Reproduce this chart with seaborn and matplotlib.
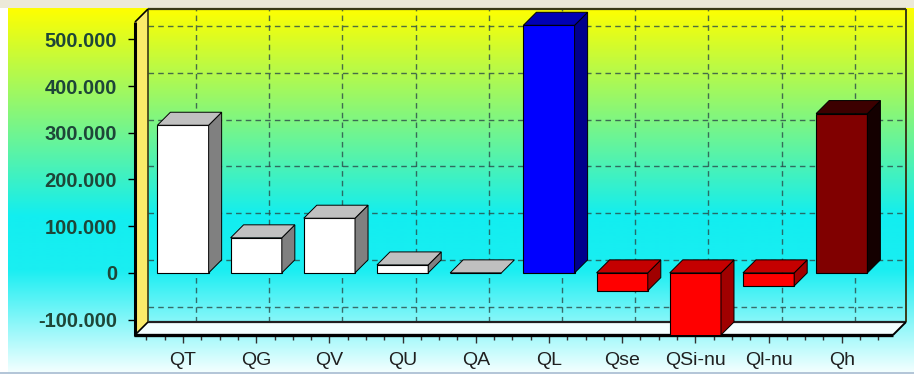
import numpy as np
import pandas as pd
import matplotlib
matplotlib.use("Agg")
import matplotlib.pyplot as plt
import seaborn as sns
from matplotlib.colors import to_rgb
from matplotlib.patches import Polygon, Rectangle
from matplotlib.lines import Line2D
from matplotlib.transforms import IdentityTransform
from matplotlib.ticker import FixedLocator, MultipleLocator, FixedFormatter

# ---- data -------------------------------------------------------------
categories = ["QT", "QG", "QV", "QU", "QA", "QL", "Qse", "QSi-nu", "Ql-nu", "Qh"]
values = [316000, 75000, 117000, 17000, 0, 530000, -38000, -135000, -28000, 341000]
front_colors = ["#FFFFFF", "#FFFFFF", "#FFFFFF", "#FFFFFF", "#FFFFFF",
                "#0000FF", "#FF0000", "#FF0000", "#FF0000", "#800000"]
top_colors = ["#C0C0C0", "#C0C0C0", "#C0C0C0", "#C0C0C0", "#C0C0C0",
              "#0000B4", "#C40000", "#C40000", "#C40000", "#3C0000"]
side_colors = ["#808080", "#808080", "#808080", "#808080", "#808080",
               "#00008C", "#A00000", "#A00000", "#A00000", "#140000"]
y_ticks = [-100000, 0, 100000, 200000, 300000, 400000, 500000]
y_labels = ["-100.000", "0", "100.000", "200.000", "300.000", "400.000", "500.000"]

W, H = 914, 374
D = 13  # depth of the pseudo-3D walls and bars, in pixels

sns.set_theme(style="white")
plt.rcParams["font.family"] = ["Liberation Sans", "DejaVu Sans"]

fig = plt.figure(figsize=(W / 100, H / 100), dpi=100, facecolor="#ECE9D8")

# ---- gradient backdrop ------------------------------------------------
bg = fig.add_axes([0, 0, 1, 1], zorder=0)
bg.set_xlim(0, W)
bg.set_ylim(H, 0)
bg.axis("off")
stops = [(0.0, "#FFFF00"), (0.57, "#12EEF0"), (0.72, "#1AEEF2"), (1.0, "#F2FFFF")]
ys = np.linspace(0, 1, 400)
grad = np.zeros((400, 1, 3))
for c in range(3):
    grad[:, 0, c] = np.interp(ys, [s for s, _ in stops], [to_rgb(col)[c] for _, col in stops])
bg.imshow(grad, extent=(8, W, 372, 8), aspect="auto", interpolation="bilinear")
bg.add_patch(Rectangle((0, 8), 8, H - 8, color="white", lw=0))
bg.add_patch(Rectangle((0, 372), W, 2, color="#B4C6D8", lw=0))

# ---- main plotting area (front plane) --------------------------------
left_px, right_px, top_px, bottom_px = 135, 893, 22, 335
ax = fig.add_axes([left_px / W, (H - bottom_px) / H,
                   (right_px - left_px) / W, (bottom_px - top_px) / H], zorder=1)
ax.set_facecolor("none")

df = pd.DataFrame({"cat": categories, "val": values})
sns.barplot(data=df, x="cat", y="val", hue="cat", palette=dict(zip(categories, front_colors)),
            order=categories, hue_order=categories, legend=False, width=0.70,
            saturation=1, edgecolor="black", linewidth=0.8, ax=ax, zorder=5)

xmin, xmax = -0.656, 9.70
ymin, ymax = -133000, 537000
ax.set_xlim(xmin, xmax)
ax.set_ylim(ymin, ymax)
for s in ax.spines.values():
    s.set_visible(False)
ax.grid(False)
ax.set_xlabel("")
ax.set_ylabel("")

ax.yaxis.set_major_locator(FixedLocator(y_ticks))
ax.yaxis.set_major_formatter(FixedFormatter(y_labels))
ax.xaxis.set_major_locator(FixedLocator(list(range(len(categories)))))
ax.xaxis.set_major_formatter(FixedFormatter(categories))
ax.xaxis.set_minor_locator(MultipleLocator(0.25))
ax.tick_params(axis="y", left=True, length=5, width=1, color="black", pad=8,
               labelsize=14.5, labelcolor="#1E4638")
for t in ax.get_yticklabels():
    t.set_fontweight("bold")
ax.tick_params(axis="x", which="major", bottom=True, length=6, width=1, color="#303030",
               pad=6, labelsize=14, labelcolor="#202020")
ax.tick_params(axis="x", which="minor", bottom=True, length=3.5, width=1, color="#303030")

fig.canvas.draw()
T = ax.transData


def px(x, y):
    return tuple(T.transform((x, y)))


X0, Y0 = px(xmin, ymin)
X1, Y1 = px(xmax, ymax)
ident = IdentityTransform()


def poly(pts, fc, ec="black", lw=0.6, z=2):
    p = Polygon(pts, closed=True, facecolor=fc, edgecolor=ec, linewidth=lw,
                transform=ident, clip_on=False, zorder=z)
    ax.add_artist(p)


def seg(p0, p1, color="black", lw=1.0, z=3, **kw):
    ax.add_artist(Line2D([p0[0], p1[0]], [p0[1], p1[1]], color=color, linewidth=lw,
                         transform=ident, clip_on=False, zorder=z, solid_capstyle="butt", **kw))


# back-wall grid
grid_kw = dict(color="#2A4A48", lw=1.0, z=1.5, alpha=0.8, linestyle=(0, (4, 3)))
for yv in y_ticks:
    _, gy = px(xmin, yv)
    seg((X0 + D, gy + D), (X1 + D, gy + D), **grid_kw)
for i in range(len(categories)):
    gx, _ = px(i, 0)
    seg((gx + D, Y0 + D), (gx + D, Y1 + D), **grid_kw)

# floor and left wall
poly([(X0, Y0), (X1, Y0), (X1 + D, Y0 + D), (X0 + D, Y0 + D)], "#F4FFFF", ec="none", z=1.6)
poly([(X0, Y0), (X0, Y1), (X0 + D, Y1 + D), (X0 + D, Y0 + D)], "#FAEB6A", ec="none", z=1.6)

# wall outlines
edge = "#3A3A18"
seg((X0 + D, Y1 + D), (X1 + D, Y1 + D), color=edge, lw=1.6, z=1.7)
seg((X1 + D, Y1 + D), (X1 + D, Y0 + D), color=edge, lw=1.4, z=1.7)
seg((X0 + D, Y0 + D), (X1 + D, Y0 + D), color="#202020", lw=1.6, z=1.7)
seg((X0 + D, Y0 + D), (X0 + D, Y1 + D), color=edge, lw=1.2, z=1.7)
seg((X0, Y1), (X0 + D, Y1 + D), color="black", lw=1.2, z=1.7)
seg((X1, Y0), (X1 + D, Y0 + D), color="black", lw=1.4, z=1.7)
seg((X0, Y0), (X0 + D, Y0 + D), color="black", lw=1.2, z=1.7)
seg((X0 - 1, Y0), (X1, Y0), color="black", lw=2.4, z=1.8)
seg((X0, Y0 - 1), (X0, Y1), color="black", lw=2.2, z=1.8)

# top and side faces of each bar
bars = sorted([p for p in ax.patches if isinstance(p, Rectangle)], key=lambda p: p.get_x())
for patch, v, tc, sc in zip(bars, values, top_colors, side_colors):
    bx0 = patch.get_x()
    bx1 = bx0 + patch.get_width()
    hi = max(v, 0)
    lo = max(min(v, 0), ymin)
    a0, yh = px(bx0, hi)
    a1, yl = px(bx1, lo)
    if yh - yl > 0.5:
        poly([(a1, yl), (a1, yh), (a1 + D, yh + D), (a1 + D, yl + D)], sc, lw=0.7, z=6)
    poly([(a0, yh), (a1, yh), (a1 + D, yh + D), (a0 + D, yh + D)], tc, lw=0.7, z=6)

fig.savefig("out.png", dpi=100, facecolor=fig.get_facecolor())
